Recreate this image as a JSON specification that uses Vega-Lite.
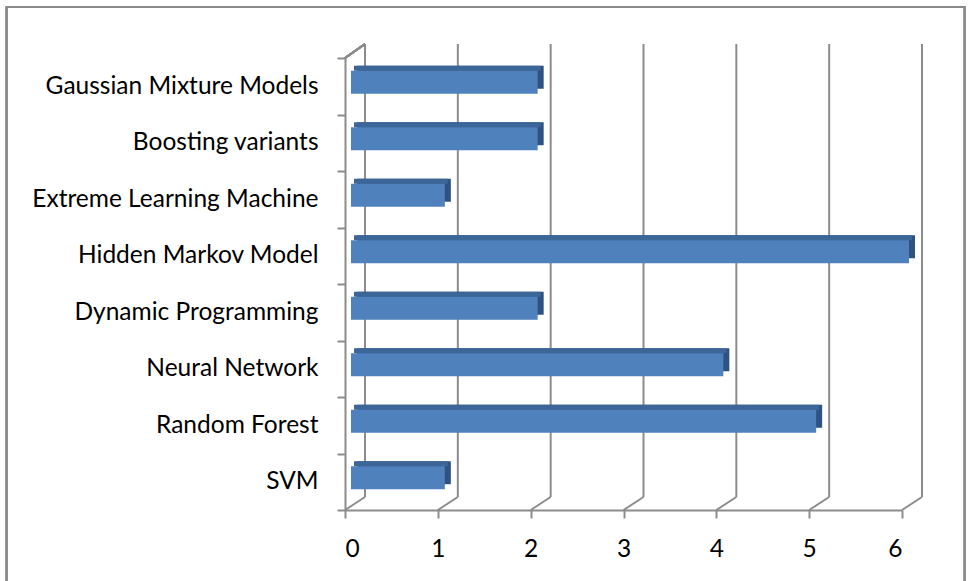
{
  "$schema": "https://vega.github.io/schema/vega-lite/v6.json",
  "autosize": {"type": "none"},
  "width": 557,
  "height": 452,
  "padding": {"left": 345, "top": 58, "right": 68, "bottom": 71},
  "background": "white",
  "config": {
    "view": {"stroke": null},
    "font": "Lato",
    "axis": {
      "labelFont": "Lato",
      "labelFontSize": 24.5,
      "labelColor": "#000000",
      "labelLimit": 0,
      "domainColor": "#8c8c8c",
      "domainWidth": 2,
      "tickColor": "#8c8c8c",
      "tickWidth": 2,
      "tickSize": 8,
      "grid": false,
      "title": null
    }
  },
  "datasets": {
    "methods": [
      {"algorithm": "Gaussian Mixture Models", "count": 2},
      {"algorithm": "Boosting variants", "count": 2},
      {"algorithm": "Extreme Learning Machine", "count": 1},
      {"algorithm": "Hidden Markov Model", "count": 6},
      {"algorithm": "Dynamic Programming", "count": 2},
      {"algorithm": "Neural Network", "count": 4},
      {"algorithm": "Random Forest", "count": 5},
      {"algorithm": "SVM", "count": 1}
    ],
    "ticks": [{"t": 0}, {"t": 1}, {"t": 2}, {"t": 3}, {"t": 4}, {"t": 5}, {"t": 6}]
  },
  "data": {"name": "methods"},
  "layer": [
    {
      "description": "outer chart frame",
      "mark": {"type": "rect", "filled": false, "stroke": "#8a8a8a", "strokeWidth": 1.5, "yOffset": -51, "y2Offset": 100},
      "encoding": {
        "x": {"datum": -3.646, "type": "quantitative", "scale": {"domain": [0, 6], "nice": false, "zero": true}, "axis": {"values": [0, 1, 2, 3, 4, 5, 6], "format": "d", "labelPadding": 19}},
        "x2": {"datum": 6.674},
        "y": {
          "datum": "Gaussian Mixture Models", "type": "nominal", "bandPosition": 0,
          "scale": {"domain": ["Gaussian Mixture Models", "Boosting variants", "Extreme Learning Machine", "Hidden Markov Model", "Dynamic Programming", "Neural Network", "Random Forest", "SVM"], "paddingInner": 0, "paddingOuter": 0},
          "axis": {"tickBand": "extent", "labelPadding": 19}
        },
        "y2": {"datum": "SVM", "bandPosition": 1}
      }
    },
    {
      "description": "back-wall gridlines",
      "data": {"name": "ticks"},
      "mark": {"type": "rule", "color": "#8c8c8c", "strokeWidth": 2, "xOffset": 20, "x2Offset": 20, "yOffset": -14, "y2Offset": -13},
      "encoding": {
        "x": {"field": "t", "type": "quantitative"},
        "y": {"datum": "Gaussian Mixture Models", "type": "nominal", "bandPosition": 0},
        "y2": {"datum": "SVM", "bandPosition": 1}
      }
    },
    {
      "description": "floor depth lines",
      "data": {"name": "ticks"},
      "mark": {"type": "rule", "color": "#8c8c8c", "strokeWidth": 2, "x2Offset": 20, "y2Offset": -13},
      "encoding": {
        "x": {"field": "t", "type": "quantitative"},
        "x2": {"field": "t"},
        "y": {"datum": "SVM", "type": "nominal", "bandPosition": 1},
        "y2": {"datum": "SVM", "bandPosition": 1}
      }
    },
    {
      "description": "side wall top edge",
      "mark": {"type": "rule", "color": "#8c8c8c", "strokeWidth": 2, "x2Offset": 20, "y2Offset": -14},
      "encoding": {
        "x": {"datum": 0, "type": "quantitative"},
        "x2": {"datum": 0},
        "y": {"datum": "Gaussian Mixture Models", "type": "nominal", "bandPosition": 0},
        "y2": {"datum": "Gaussian Mixture Models", "bandPosition": 0}
      }
    },
    {
      "description": "bar side face",
      "mark": {"type": "bar", "color": "#2e5281", "height": 23, "yOffset": -9, "xOffset": 13, "x2Offset": 12},
      "encoding": {
        "x": {"field": "count", "type": "quantitative"},
        "x2": {"datum": 0},
        "y": {"field": "algorithm", "type": "nominal", "sort": null}
      }
    },
    {
      "description": "bar top face",
      "mark": {"type": "bar", "color": "#3d6698", "height": 5, "yOffset": -18, "xOffset": 10, "x2Offset": 9},
      "encoding": {
        "x": {"field": "count", "type": "quantitative"},
        "x2": {"datum": 0},
        "y": {"field": "algorithm", "type": "nominal", "sort": null}
      }
    },
    {
      "description": "bar front face",
      "mark": {"type": "bar", "color": "#4f81bd", "height": 23, "yOffset": -4, "xOffset": 7, "x2Offset": 6},
      "encoding": {
        "x": {"field": "count", "type": "quantitative"},
        "x2": {"datum": 0},
        "y": {"field": "algorithm", "type": "nominal", "sort": null}
      }
    }
  ]
}
